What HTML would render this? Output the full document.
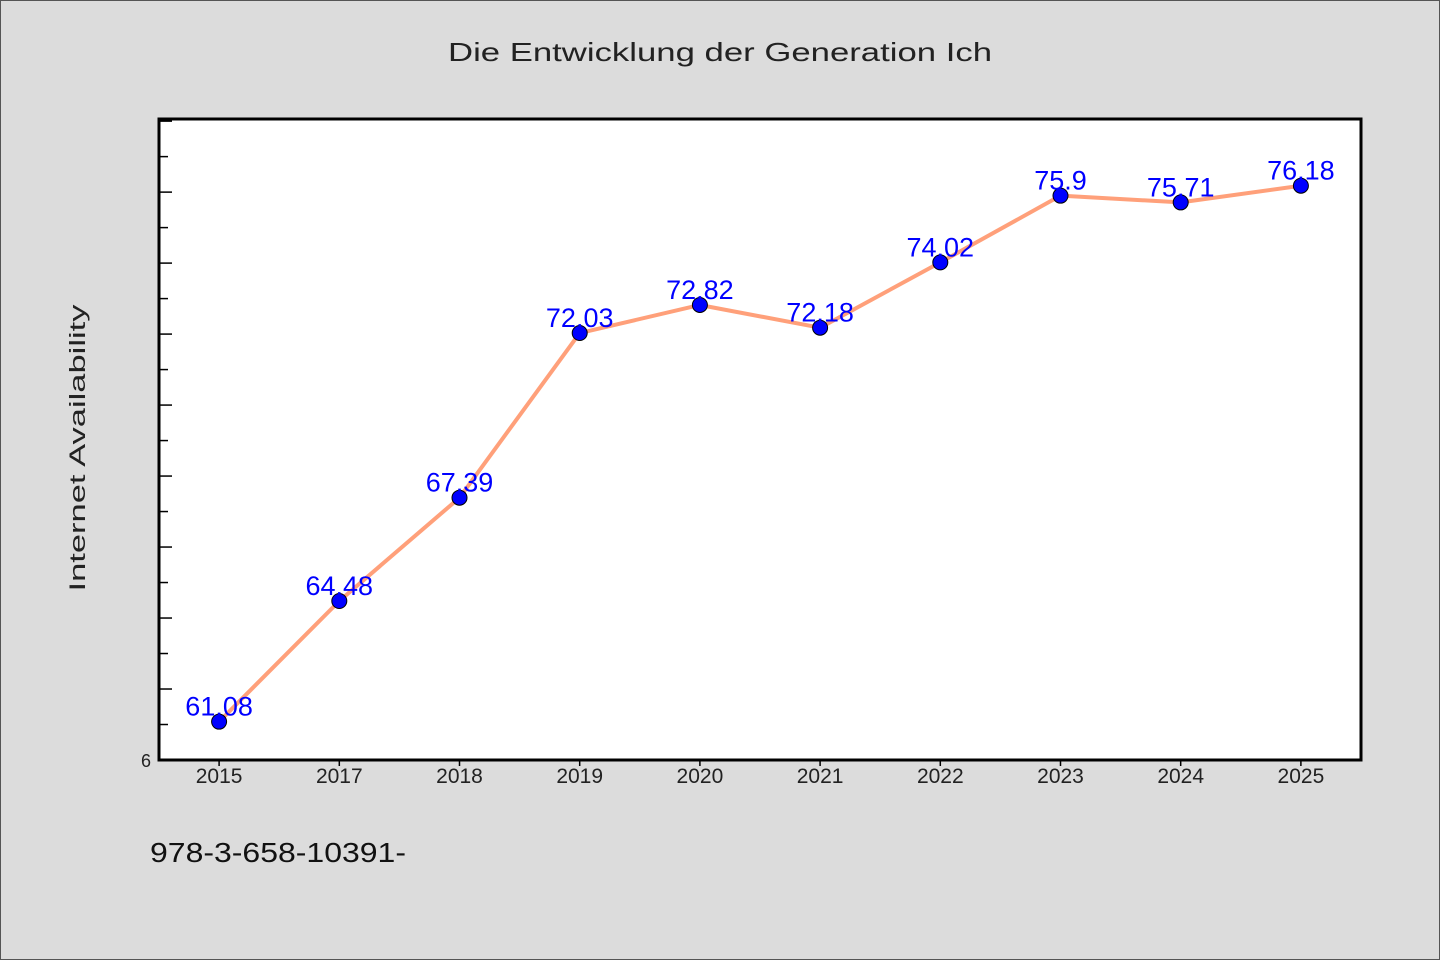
<!DOCTYPE html>
<html><head><meta charset="utf-8"><style>
html,body{margin:0;padding:0;background:#dcdcdc;}
svg{display:block;}
text{font-family:"WenQuanYi Zen Hei","Liberation Sans",sans-serif;}
</style></head><body>
<svg id="chart" width="1440" height="960" xmlns="http://www.w3.org/2000/svg">
<rect x="0.5" y="0.5" width="1439" height="959" fill="#dcdcdc" stroke="#555" stroke-width="1"/>
<text x="720" y="61" text-anchor="middle" font-size="26" textLength="544" lengthAdjust="spacingAndGlyphs" fill="#222">Die Entwicklung der Generation Ich</text>
<rect x="159" y="119" width="1202" height="641" fill="#fff"/>
<g id="ticks"></g>
<g id="series"></g>
<rect x="159" y="119" width="1202" height="641" fill="none" stroke="#000" stroke-width="3"/>
<text transform="translate(85,448) rotate(-90)" text-anchor="middle" font-size="22" textLength="287" lengthAdjust="spacingAndGlyphs" fill="#222">Internet Availability</text>
<text x="146" y="767" text-anchor="middle" font-size="18" fill="#222">6</text>
<text x="150" y="862" font-size="28" textLength="256" lengthAdjust="spacingAndGlyphs" fill="#111">978-3-658-10391-</text>
</svg>
<script>
const categories = ["2015","2017","2018","2019","2020","2021","2022","2023","2024","2025"];
const values = [61.08,64.48,67.39,72.03,72.82,72.18,74.02,75.9,75.71,76.18];
const labels = ["61.08","64.48","67.39","72.03","72.82","72.18","74.02","75.9","75.71","76.18"];
const yMin = 60, yMax = 78.06;
const NS = "http://www.w3.org/2000/svg";
const L = 159, R = 1361, T = 119, B = 760;
const step = (R - L) / categories.length;
function xs(i){ return L + step * (i + 0.5); }
function ys(v){ return B - (v - yMin) / (yMax - yMin) * (B - T); }
function mk(tag, attrs, parent){ const e = document.createElementNS(NS, tag); for (const k in attrs) e.setAttribute(k, attrs[k]); parent.appendChild(e); return e; }
const tg = document.getElementById('ticks');
for (let v = yMin + 1; v < yMax; v++) {
  const major = (v - yMin) % 2 === 0;
  const t = mk('line', {x1: L, x2: L + (major ? 13 : 9), y1: ys(v), y2: ys(v), stroke: '#000', 'stroke-width': 1.5}, tg);
  
  
}
categories.forEach((c, i) => {
  const t = mk('line', {x1: xs(i), x2: xs(i), y1: B, y2: B + 6, stroke: '#000', 'stroke-width': 1.5}, tg);
  
  
  const tx = mk('text', {x: xs(i), y: B + 23, 'text-anchor': 'middle', 'font-size': 21, fill: '#222'}, tg);
  
  
  tx.textContent = c;
});
const sg = document.getElementById('series');
const pts = values.map((v, i) => xs(i) + ',' + ys(v)).join(' ');
const line = mk('polyline', {points: pts, fill: 'none', stroke: '#ffa07a', 'stroke-width': 4, 'stroke-linejoin': 'round'}, sg);


values.forEach((v, i) => {
  const c = mk('circle', {cx: xs(i), cy: ys(v), r: 7.5, fill: '#0000ff', stroke: '#000', 'stroke-width': 1}, sg);
  
  
  const t = mk('text', {x: xs(i), y: ys(v) - 6, 'text-anchor': 'middle', 'font-size': 27, fill: '#0000ff'}, sg);
  
  
  t.textContent = labels[i];
});
</script>
</body></html>
